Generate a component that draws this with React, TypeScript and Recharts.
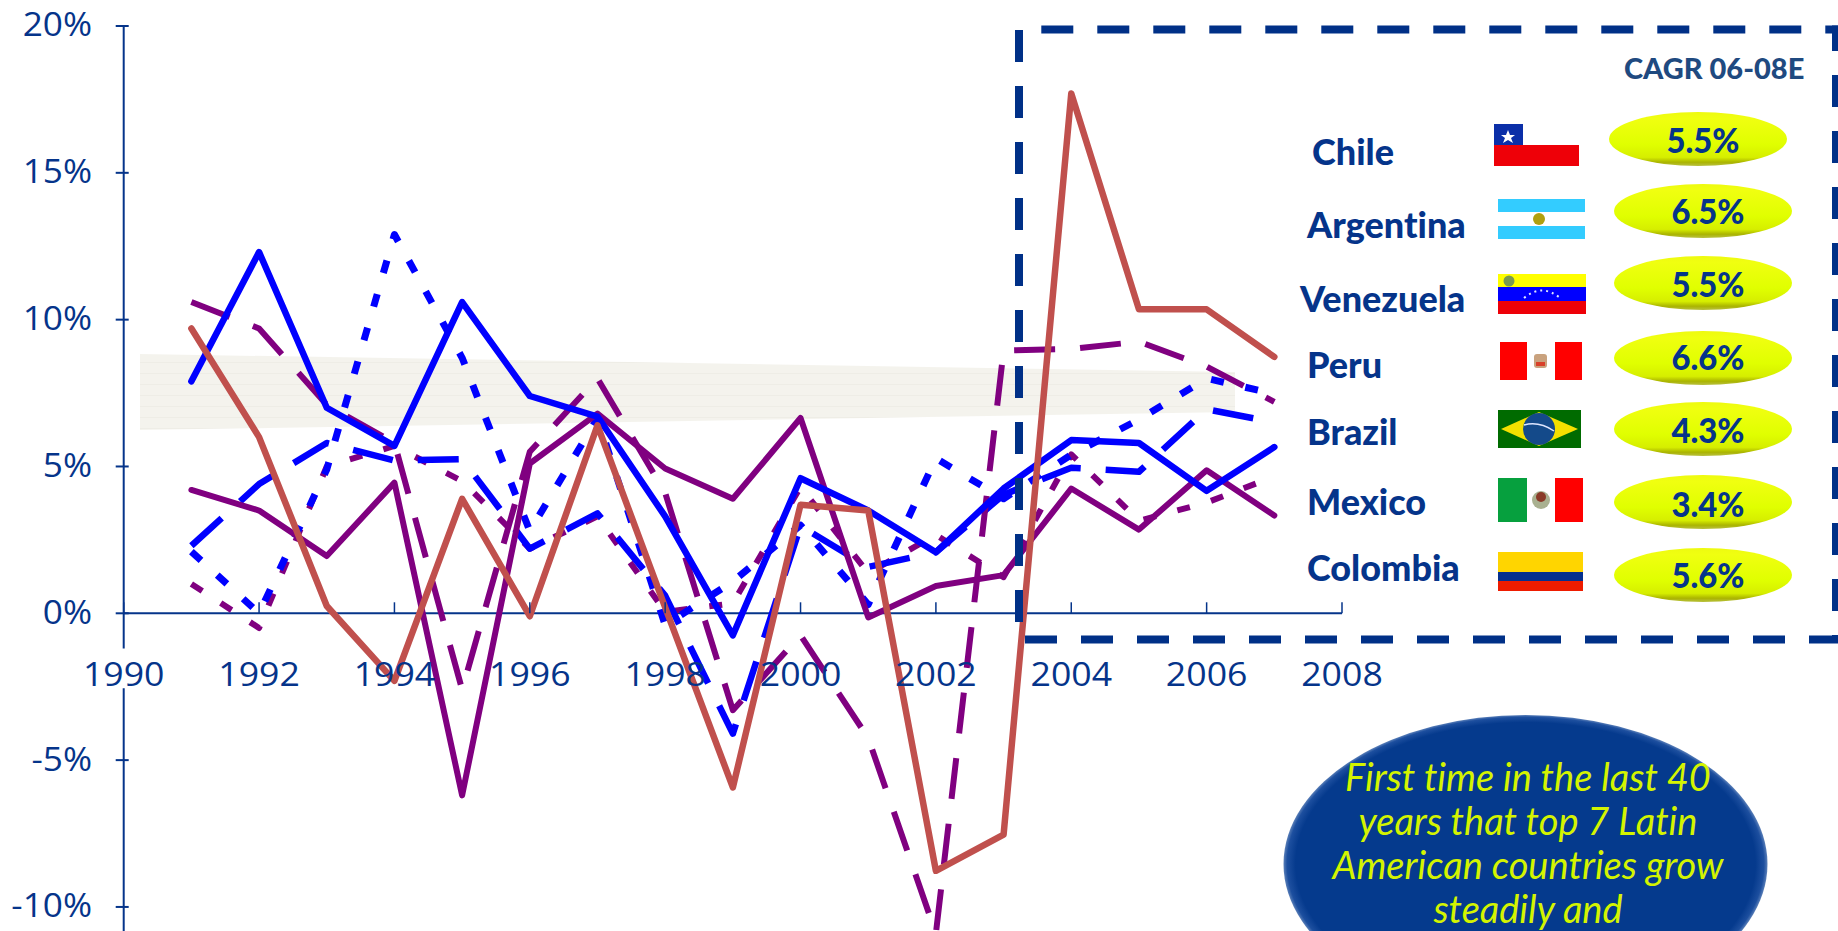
import { LineChart, Line, XAxis, YAxis, ReferenceLine } from "recharts";

const years = [1991, 1992, 1993, 1994, 1995, 1996, 1997, 1998, 1999, 2000, 2001, 2002, 2003, 2004, 2005, 2006, 2007];

// yearly GDP growth, in percent
const solidBlue = [7.9, 12.3, 7.0, 5.7, 10.6, 7.4, 6.7, 3.3, -0.75, 4.6, 3.5, 2.08, 4.25, 5.9, 5.8, 4.17, 5.66];
const solidPurple = [4.2, 3.5, 1.95, 4.45, -6.2, 5.1, 6.8, 4.93, 3.9, 6.65, -0.14, 0.93, 1.3, 4.25, 2.85, 4.87, 3.33];
const solidBrown = [9.7, 6.0, 0.25, -2.3, 3.9, -0.1, 6.4, 0.2, -5.93, 3.7, 3.5, -8.77, -7.54, 17.7, 10.35, 10.35, 8.73];
const longDashPurple = [10.6, 9.7, 7.1, 5.8, -2.6, 5.5, 8.0, 4.1, -3.3, -0.75, -4.25, -10.9, 8.95, 9.0, 9.25, 8.4, 7.2];
const longDashBlue = [2.3, 4.4, 5.8, 5.2, 5.25, 2.2, 3.4, 0.6, -4.1, 2.97, 1.58, 2.08, 4.04, 4.96, 4.82, 6.95, 6.5];
const dottedBlue = [2.1, 0, 4.9, 12.9, 8.7, 2.8, 6.65, -0.4, 1.08, 3.0, 0.3, 5.28, 3.9, 5.4, 6.6, 8.0, 7.47];
const dottedPurple = [1.0, -0.5, 5.0, 5.7, 4.5, 2.2, 3.3, 0.05, 0.34, 4.3, 1.37, 2.67, 1.23, 5.41, 3.15, 3.77, 4.66];

const yearTicks = [1990, 1992, 1994, 1996, 1998, 2000, 2002, 2004, 2006, 2008];
const percentTicks = [-10, -5, 0, 5, 10, 15, 20];

const countries = ["Chile", "Argentina", "Venezuela", "Peru", "Brazil", "Mexico", "Colombia"];
const cagr = ["5.5%", "6.5%", "5.5%", "6.6%", "4.3%", "3.4%", "5.6%"];
const calloutLines = ["First time in the last 40", "years that top 7 Latin", "American countries grow", "steadily and"];

const rows = years.map((year, i) => ({
  year,
  solidBlue: solidBlue[i],
  solidPurple: solidPurple[i],
  solidBrown: solidBrown[i],
  longDashPurple: longDashPurple[i],
  longDashBlue: longDashBlue[i],
  dottedBlue: dottedBlue[i],
  dottedPurple: dottedPurple[i],
}));

const NAVY = "#05348a";
const FONT = "'Open Sans', sans-serif";
const BOLD_FONT = "Lato, sans-serif";
const LONG_DASH = "41 25";
const SHORT_DASH = "13 22";

const plotTop = 26;
const zeroY = 613.3;
const pxPerPercent = (zeroY - plotTop) / 20;
const axisBand = 10;
const chartHeight = zeroY + 15 * pxPerPercent + axisBand;

function YearTick({ x, payload }: any) {
  return (
    <g>
      <line x1={x} x2={x} y1={zeroY - 11} y2={zeroY} stroke={NAVY} strokeWidth={1.5} />
      <text transform={`translate(${x} 686.5) scale(1.115 1)`} textAnchor="middle" fontFamily={FONT} fontSize={32} fill={NAVY}>
        {payload.value}
      </text>
    </g>
  );
}

function PercentTick({ x, y, payload }: any) {
  return (
    <g>
      <line x1={x} x2={x + 13} y1={y} y2={y} stroke={NAVY} strokeWidth={2} />
      <text transform={`translate(92 ${y + 10.5}) scale(1.1 1)`} textAnchor="end" fontFamily={FONT} fontSize={32} fill={NAVY}>
        {payload.value}%
      </text>
    </g>
  );
}

// shaded band that sits behind the series
function Band() {
  return (
    <svg width={1838} height={931} style={{ position: "absolute", left: 0, top: 0 }}>
      <defs>
        <pattern id="bandStripes" width={8} height={11} patternUnits="userSpaceOnUse">
          <rect width={8} height={11} fill="#f4f3ed" />
          <rect y={10} width={8} height={1} fill="#eeede6" />
        </pattern>
      </defs>
      <polygon points="140,354 1235,372 1235,412 140,430" fill="url(#bandStripes)" />
    </svg>
  );
}

const flagBoxes = [
  [1494, 124, 85, 42],
  [1498, 199, 87, 40],
  [1498, 274, 88, 40],
  [1499, 342, 84, 38],
  [1498, 410, 83, 38],
  [1498, 478, 85, 44],
  [1498, 552, 85, 39],
];

function Flag({ name, box }: { name: string; box: number[] }) {
  const [x, y, w, h] = box;
  if (name === "Chile") {
    return (
      <g>
        <rect x={x} y={y} width={w} height={h / 2} fill="#fff" />
        <rect x={x} y={y} width={29} height={h / 2} fill="#0b2fa8" />
        <rect x={x} y={y + h / 2} width={w} height={h / 2} fill="#ee0008" />
        <polygon
          points={`${x + 14},${y + 6} ${x + 16},${y + 11} ${x + 21},${y + 11} ${x + 17},${y + 14} ${x + 19},${y + 19} ${x + 14},${y + 16} ${x + 9},${y + 19} ${x + 11},${y + 14} ${x + 7},${y + 11} ${x + 12},${y + 11}`}
          fill="#fff"
        />
      </g>
    );
  }
  if (name === "Argentina") {
    return (
      <g>
        <rect x={x} y={y} width={w} height={h} fill="#fff" />
        <rect x={x} y={y} width={w} height={13} fill="#33ccff" />
        <rect x={x} y={y + h - 13} width={w} height={13} fill="#33ccff" />
        <circle cx={x + 41} cy={y + 20} r={6} fill="#b0a010" />
      </g>
    );
  }
  if (name === "Venezuela") {
    return (
      <g>
        <rect x={x} y={y} width={w} height={14} fill="#ffff00" />
        <rect x={x} y={y + 13} width={w} height={14} fill="#0000ff" />
        <rect x={x} y={y + 27} width={w} height={13} fill="#ee0008" />
        <circle cx={x + 11} cy={y + 7} r={5.5} fill="#7a9a50" />
        <path d={`M${x + 26} ${y + 24} Q${x + 44} ${y + 9} ${x + 62} ${y + 24}`} fill="none" stroke="#dfe6ff" strokeWidth={2} strokeDasharray="2 4" />
      </g>
    );
  }
  if (name === "Peru") {
    return (
      <g>
        <rect x={x} y={y} width={w} height={h} fill="#fff" />
        <rect x={x + 1} y={y} width={27} height={h} fill="#ff0000" />
        <rect x={x + 56} y={y} width={27} height={h} fill="#ff0000" />
        <rect x={x + 35} y={y + 12} width={13} height={14} rx={3} fill="#c9a27e" />
        <rect x={x + 37} y={y + 20} width={9} height={4} fill="#d8402a" />
      </g>
    );
  }
  if (name === "Brazil") {
    return (
      <g>
        <rect x={x} y={y} width={w} height={h} fill="#006b00" />
        <polygon points={`${x + 3},${y + 19} ${x + 41},${y + 2} ${x + 80},${y + 19} ${x + 41},${y + 36}`} fill="#f4e000" />
        <circle cx={x + 41} cy={y + 19} r={16} fill="#144a8a" />
        <path d={`M${x + 26} ${y + 15} Q${x + 41} ${y + 11} ${x + 56} ${y + 21}`} fill="none" stroke="#dfe6ff" strokeWidth={1.5} />
      </g>
    );
  }
  if (name === "Mexico") {
    return (
      <g>
        <rect x={x} y={y} width={w} height={h} fill="#fff" />
        <rect x={x} y={y} width={29} height={h} fill="#06a03e" />
        <rect x={x + 57} y={y} width={28} height={h} fill="#ff0000" />
        <circle cx={x + 43} cy={y + 22} r={9} fill="#a9b090" />
        <circle cx={x + 43} cy={y + 19} r={5} fill="#8a3a28" />
      </g>
    );
  }
  return (
    <g>
      <rect x={x} y={y} width={w} height={20} fill="#ffd500" />
      <rect x={x} y={y + 20} width={w} height={9} fill="#05308f" />
      <rect x={x} y={y + 29} width={w} height={10} fill="#ee1c00" />
    </g>
  );
}

const nameAnchors = [
  [1312, 165],
  [1307, 238],
  [1300, 312],
  [1307, 378],
  [1307, 445],
  [1307, 515],
  [1307, 580.5],
];
const pillBoxes = [
  [1609, 112],
  [1614, 184],
  [1614, 256],
  [1614, 331],
  [1614, 402],
  [1614, 475],
  [1614, 548],
];
const pillBaselines = [153, 224, 297, 370, 443, 517, 588];

// dashed frame, country table and callout that overlay the plot
function Overlay() {
  return (
    <svg width={1838} height={931} style={{ position: "absolute", left: 0, top: 0, fontVariantLigatures: "none" }}>
      <defs>
        <linearGradient id="pillFill" x1="0" y1="0" x2="0" y2="1">
          <stop offset="0" stopColor="#eefa10" />
          <stop offset="0.12" stopColor="#f0ff10" />
          <stop offset="0.6" stopColor="#e0ff00" />
          <stop offset="0.84" stopColor="#d6ee00" />
          <stop offset="0.93" stopColor="#aab400" />
          <stop offset="1" stopColor="#b8c040" />
        </linearGradient>
        <radialGradient id="calloutFill" cx="0.5" cy="0.5" r="0.5">
          <stop offset="0" stopColor="#053a8d" />
          <stop offset="0.95" stopColor="#053a8d" />
          <stop offset="0.985" stopColor="#1d4f9f" />
          <stop offset="1" stopColor="#5a7fb8" />
        </radialGradient>
      </defs>

      <g stroke="#003087" strokeWidth={8} strokeDasharray="32 24" fill="none">
        <line x1={1019} y1={30} x2={1019} y2={622} />
        <line x1={1041.3} y1={29.5} x2={1838} y2={29.5} />
        <line x1={1836} y1={25.5} x2={1836} y2={642} strokeDashoffset={6.5} />
        <line x1={1025} y1={639.5} x2={1838} y2={639.5} />
      </g>

      <text x={1624} y={79} fontFamily={BOLD_FONT} fontWeight={900} fontSize={29} fill="#1f4a80">
        CAGR 06-08E
      </text>

      {countries.map((name, i) => (
        <g key={name}>
          <text x={nameAnchors[i][0]} y={nameAnchors[i][1]} fontFamily={BOLD_FONT} fontWeight={900} fontSize={36} fill={NAVY}>
            {name}
          </text>
          <Flag name={name} box={flagBoxes[i]} />
          <ellipse cx={pillBoxes[i][0] + 89} cy={pillBoxes[i][1] + 27} rx={89} ry={27} fill="url(#pillFill)" />
          <text
            x={pillBoxes[i][0] + 94}
            y={pillBaselines[i]}
            textAnchor="middle"
            textLength={73}
            lengthAdjust="spacingAndGlyphs"
            fontFamily={BOLD_FONT}
            fontWeight={900}
            fontSize={35}
            fill={NAVY}
          >
            {cagr[i]}
          </text>
        </g>
      ))}

      <ellipse cx={1525.5} cy={864} rx={242} ry={149} fill="url(#calloutFill)" />
      {calloutLines.map((line, i) => (
        <text
          key={line}
          x={1528}
          y={790.5 + i * 44}
          textAnchor="middle"
          fontFamily={BOLD_FONT}
          fontStyle="italic"
          fontSize={38}
          fill="#d4f400"
        >
          {line}
        </text>
      ))}
    </svg>
  );
}

export default function App() {
  return (
    <div style={{ position: "absolute", left: 0, top: 0, width: 1838, height: 931, overflow: "hidden", background: "#fff" }}>
      <Band />
      <div style={{ position: "absolute", left: 0, top: 0 }}>
        <LineChart width={1838} height={chartHeight} data={rows} margin={{ top: plotTop, left: 0, right: 496, bottom: 0 }}>
          <XAxis
            dataKey="year"
            type="number"
            domain={[1990, 2008]}
            ticks={yearTicks}
            interval={0}
            height={axisBand}
            axisLine={false}
            tickLine={false}
            tick={<YearTick />}
          />
          <YAxis
            type="number"
            domain={[-15, 20]}
            ticks={percentTicks}
            interval={0}
            width={123.7}
            axisLine={false}
            tickLine={false}
            tick={<PercentTick />}
          />
          {/* the vertical axis breaks behind the 1990 label */}
          <ReferenceLine segment={[{ x: 1990, y: 20 }, { x: 1990, y: -1.2 }]} stroke={NAVY} strokeWidth={2} />
          <ReferenceLine segment={[{ x: 1990, y: -2.55 }, { x: 1990, y: -15 }]} stroke={NAVY} strokeWidth={2} />
          <ReferenceLine segment={[{ x: 1990, y: 0 }, { x: 2008, y: 0 }]} stroke={NAVY} strokeWidth={2} />

          <Line dataKey="dottedPurple" stroke="#800080" strokeWidth={6} strokeDasharray={SHORT_DASH} strokeLinejoin="round" dot={false} isAnimationActive={false} />
          <Line dataKey="longDashBlue" stroke="#0000ff" strokeWidth={6.5} strokeDasharray={LONG_DASH} strokeLinejoin="round" dot={false} isAnimationActive={false} />
          <Line dataKey="dottedBlue" stroke="#0000ff" strokeWidth={7} strokeDasharray={SHORT_DASH} strokeLinejoin="round" dot={false} isAnimationActive={false} />
          <Line dataKey="longDashPurple" stroke="#800080" strokeWidth={6} strokeDasharray={LONG_DASH} strokeLinejoin="round" dot={false} isAnimationActive={false} />
          <Line dataKey="solidPurple" stroke="#800080" strokeWidth={6} strokeLinecap="round" strokeLinejoin="round" dot={false} isAnimationActive={false} />
          <Line dataKey="solidBlue" stroke="#0000ff" strokeWidth={6.5} strokeLinecap="round" strokeLinejoin="round" dot={false} isAnimationActive={false} />
          <Line dataKey="solidBrown" stroke="#c0504d" strokeWidth={6.5} strokeLinecap="round" strokeLinejoin="round" dot={false} isAnimationActive={false} />
        </LineChart>
      </div>
      <Overlay />
    </div>
  );
}
